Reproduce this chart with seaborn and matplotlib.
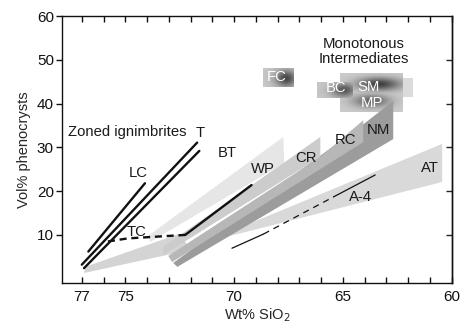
import numpy as np
import matplotlib
matplotlib.use("Agg")
import matplotlib.pyplot as plt
import seaborn as sns

# --- data (x = wt% SiO2, y = vol% phenocrysts) ---
# shaded fields, polygon outlines
at_x = [70.55, 60.44, 60.44, 70.55]
at_y = [10.0, 30.8, 22.1, 9.3]
tc_band_x = [76.89, 76.84, 72.5, 72.0]
tc_band_y = [1.3, 2.7, 10.3, 6.6]
wp_x = [73.95, 67.74, 67.70, 73.86]
wp_y = [9.8, 32.4, 26.4, 8.4]
nm_x = [72.80, 64.11, 62.69, 62.69, 72.61]
nm_y = [3.6, 35.1, 40.6, 31.9, 2.7]
rc_x = [73.03, 66.04, 64.07, 64.07, 72.85]
rc_y = [5.2, 27.8, 36.2, 31.2, 3.8]
cr_x = [73.26, 67.74, 66.04, 66.04, 73.26]
cr_y = [7.26, 26.4, 32.4, 27.8, 5.43]

# monotonous intermediate boxes: x0, x1, y0, y1
fc_box = [68.66, 67.28, 43.8, 48.1]
bc_box = [66.18, 64.57, 41.3, 44.9]
sm_box = [65.12, 62.23, 38.1, 46.8]
sm_ext = [62.23, 61.81, 41.5, 45.8]

# zoned ignimbrite trends
lc_x, lc_y = [76.7, 74.1], [6.2, 21.8]
t_x, t_y = [77.0, 71.7], [3.2, 31.1]
bt_x, bt_y = [76.9, 71.6], [2.4, 29.2]
tc_dash_x, tc_dash_y = [75.8, 74.9, 72.25], [8.5, 9.2, 10.0]
tc_solid_x, tc_solid_y = [72.25, 69.2], [10.0, 21.4]
a4_x = [70.1, 68.65, 65.43, 63.52]
a4_y = [6.96, 10.2, 18.7, 23.7]

labels = ["T", "BT", "LC", "TC", "WP", "CR", "RC", "NM", "AT", "A-4"]
label_x = [71.56, 70.33, 74.39, 74.47, 68.68, 66.69, 64.89, 63.36, 61.02, 64.2]
label_y = [33.4, 28.8, 24.1, 10.75, 25.1, 27.5, 31.7, 34.0, 25.2, 18.6]
blob_labels = ["FC", "BC", "SM", "MP"]
blob_label_x = [68.03, 65.31, 63.82, 63.67]
blob_label_y = [46.1, 43.5, 43.7, 40.1]

x_ticks = list(range(60, 78))
x_ticklabels = {77: "77", 75: "75", 70: "70", 65: "65", 60: "60"}
y_ticks = [10, 20, 30, 40, 50, 60]


def blob(ax, box, base, centers, zorder):
    # grey box with soft dark core(s), as in the scanned figure
    x0, x1, y0, y1 = box
    nx, ny = 80, 50
    u = np.linspace(0, 1, nx)[None, :]
    v = np.linspace(0, 1, ny)[:, None]
    dark = np.zeros((ny, nx))
    for cx, cy, sx, sy, amp in centers:
        dark = np.maximum(dark, amp * np.exp(-(((u - cx) / sx) ** 2 + ((v - cy) / sy) ** 2)))
    g = base * (1 - dark) + 0.22 * dark
    img = np.dstack([g, g, g, np.ones_like(g)])
    ax.imshow(img, extent=(x0, x1, y0, y1), origin="upper", aspect="auto",
              interpolation="bilinear", zorder=zorder)


sns.set_theme(style="ticks")
plt.rcParams['font.family'] = ['Liberation Sans', 'DejaVu Sans']

fig, ax = plt.subplots(figsize=(4.61, 3.29), dpi=100)
fig.subplots_adjust(left=0.135, right=0.98, top=0.951, bottom=0.141)

# blobs (behind bands)
blob(ax, sm_ext, 0.86, [(0.0, 0.5, 0.5, 0.4, 0.0)], 1)
blob(ax, sm_box, 0.80, [(0.62, 0.28, 0.35, 0.17, 0.95), (0.5, 0.72, 0.3, 0.17, 0.7)], 1)
blob(ax, bc_box, 0.78, [(0.75, 0.5, 0.35, 0.45, 0.8)], 1)
blob(ax, fc_box, 0.78, [(0.75, 0.55, 0.35, 0.45, 0.9)], 1)

ax.fill(at_x, at_y, color="#d9d9d9", lw=0, zorder=2)
ax.fill(tc_band_x, tc_band_y, color="#d4d4d4", lw=0, zorder=2)
ax.fill(wp_x, wp_y, color="#e6e6e6", lw=0, zorder=2)
ax.fill(nm_x, nm_y, color="#9c9c9c", lw=0, zorder=3)
ax.fill(rc_x, rc_y, color="#b7b7b7", lw=0, zorder=3)
ax.fill(cr_x, cr_y, color="#cccccc", lw=0, zorder=3)

for xs, ys in [(lc_x, lc_y), (t_x, t_y), (bt_x, bt_y), (tc_solid_x, tc_solid_y)]:
    sns.lineplot(x=xs, y=ys, sort=False, color="#111111", lw=1.7, ax=ax, zorder=5)
sns.lineplot(x=tc_dash_x, y=tc_dash_y, sort=False, color="#111111", lw=1.7,
             ax=ax, zorder=5, linestyle=(0, (3, 2)))
sns.lineplot(x=a4_x[:2], y=a4_y[:2], sort=False, color="#111111", lw=0.9, ax=ax, zorder=5)
sns.lineplot(x=a4_x[1:3], y=a4_y[1:3], sort=False, color="#111111", lw=0.9, ax=ax,
             zorder=5, linestyle=(0, (5, 4)))
sns.lineplot(x=a4_x[2:], y=a4_y[2:], sort=False, color="#111111", lw=0.9, ax=ax, zorder=5)

for s, x, y in zip(labels, label_x, label_y):
    ax.text(x, y, s, ha="center", va="center", fontsize=10.7, color="#1a1a1a", zorder=6)
for s, x, y in zip(blob_labels, blob_label_x, blob_label_y):
    ax.text(x, y, s, ha="center", va="center", fontsize=10.7, color="white", zorder=6)
ax.text(77.62, 33.6, "Zoned ignimbrites", ha="left", va="center", fontsize=10.7,
        color="#1a1a1a", zorder=6)
ax.text(64.05, 51.9, "Monotonous\nIntermediates", ha="center", va="center",
        fontsize=10.7, color="#1a1a1a", linespacing=1.1, zorder=6)

ax.set_xlim(77.9, 60)
ax.set_ylim(-0.9, 60)
ax.set_xticks(x_ticks)
ax.set_xticklabels([x_ticklabels.get(t, "") for t in x_ticks])
ax.set_yticks(y_ticks)
ax.tick_params(axis="x", direction="in", top=True, length=4.5, width=1, labelsize=11,
               pad=5, colors="#111111")
ax.tick_params(axis="y", direction="out", length=4, width=1, labelsize=11,
               pad=2, colors="#111111")
ax.tick_params(axis="y", which="both", right=False)
ax2 = ax.secondary_yaxis("right")
ax2.set_yticks([10, 20, 30, 40, 50])
ax2.tick_params(direction="in", length=4, width=1, labelright=False)
for sp in list(ax.spines.values()) + list(ax2.spines.values()):
    sp.set_linewidth(1.0)
    sp.set_color("#111111")

ax.set_xlabel("Wt% SiO$_2$", fontsize=10.5, labelpad=2)
ax.set_ylabel("Vol% phenocrysts", fontsize=10.5, labelpad=4)

fig.savefig("out.png", dpi=100)
